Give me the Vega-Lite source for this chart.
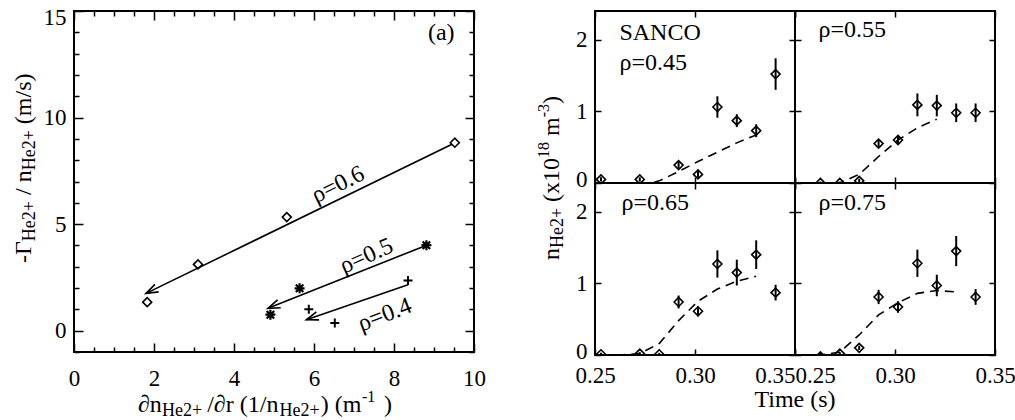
{
"$schema": "https://vega.github.io/schema/vega-lite/v6.json",
"background": "white",
"padding": {"left": 11, "top": 5, "right": 0, "bottom": 0},
"config": {
  "view": {"stroke": "black", "strokeWidth": 2},
  "font": "Liberation Serif, DejaVu Serif, serif",
  "axis": {"domain": false, "grid": false, "labelFont": "Liberation Serif, DejaVu Serif, serif", "labelFontSize": 23, "labelColor": "black", "tickColor": "black", "tickWidth": 1.5, "labelOverlap": false, "labelFlush": false, "labelBound": false},
  "text": {"font": "Liberation Serif, DejaVu Serif, serif", "color": "black", "fontSize": 24},
  "point": {"opacity": 1}
},
"datasets": {
  "flux": [
    {"rho": "0.6", "x": 1.83, "y": 1.34},
    {"rho": "0.6", "x": 3.1, "y": 3.11},
    {"rho": "0.6", "x": 5.32, "y": 5.33},
    {"rho": "0.6", "x": 9.52, "y": 8.82},
    {"rho": "0.5", "x": 4.91, "y": 0.75},
    {"rho": "0.5", "x": 5.64, "y": 1.99},
    {"rho": "0.5", "x": 8.81, "y": 4.01},
    {"rho": "0.4", "x": 5.87, "y": 1.01},
    {"rho": "0.4", "x": 6.52, "y": 0.36},
    {"rho": "0.4", "x": 8.35, "y": 2.36}
  ],
  "fits": [
    {"rho": "0.6", "end": "tail", "x": 9.45, "y": 8.75},
    {"rho": "0.6", "end": "head", "x": 1.8, "y": 1.75},
    {"rho": "0.5", "end": "tail", "x": 8.8, "y": 4.0},
    {"rho": "0.5", "end": "head", "x": 4.85, "y": 1.05},
    {"rho": "0.4", "end": "tail", "x": 8.35, "y": 2.15},
    {"rho": "0.4", "end": "head", "x": 5.81, "y": 0.51}
  ],
  "meas": [
    {"rho": "0.45", "t": 0.2530, "n": 0.05, "lo": 0.02, "hi": 0.08},
    {"rho": "0.45", "t": 0.2724, "n": 0.05, "lo": 0.02, "hi": 0.08},
    {"rho": "0.45", "t": 0.2918, "n": 0.25, "lo": 0.20, "hi": 0.30},
    {"rho": "0.45", "t": 0.3015, "n": 0.12, "lo": 0.07, "hi": 0.17},
    {"rho": "0.45", "t": 0.3112, "n": 1.06, "lo": 0.91, "hi": 1.21},
    {"rho": "0.45", "t": 0.3209, "n": 0.87, "lo": 0.78, "hi": 0.96},
    {"rho": "0.45", "t": 0.3306, "n": 0.73, "lo": 0.64, "hi": 0.82},
    {"rho": "0.45", "t": 0.3403, "n": 1.52, "lo": 1.30, "hi": 1.74},
    {"rho": "0.55", "t": 0.2627, "n": 0.0, "lo": -0.02, "hi": 0.02},
    {"rho": "0.55", "t": 0.2724, "n": 0.0, "lo": -0.02, "hi": 0.02},
    {"rho": "0.55", "t": 0.2821, "n": 0.03, "lo": 0.0, "hi": 0.06},
    {"rho": "0.55", "t": 0.2918, "n": 0.55, "lo": 0.49, "hi": 0.61},
    {"rho": "0.55", "t": 0.3015, "n": 0.60, "lo": 0.54, "hi": 0.66},
    {"rho": "0.55", "t": 0.3112, "n": 1.09, "lo": 0.93, "hi": 1.25},
    {"rho": "0.55", "t": 0.3209, "n": 1.08, "lo": 0.93, "hi": 1.23},
    {"rho": "0.55", "t": 0.3306, "n": 0.98, "lo": 0.85, "hi": 1.11},
    {"rho": "0.55", "t": 0.3403, "n": 0.98, "lo": 0.85, "hi": 1.11},
    {"rho": "0.65", "t": 0.2530, "n": 0.01, "lo": -0.01, "hi": 0.03},
    {"rho": "0.65", "t": 0.2724, "n": 0.02, "lo": 0.0, "hi": 0.04},
    {"rho": "0.65", "t": 0.2821, "n": 0.01, "lo": -0.01, "hi": 0.03},
    {"rho": "0.65", "t": 0.2918, "n": 0.74, "lo": 0.65, "hi": 0.83},
    {"rho": "0.65", "t": 0.3015, "n": 0.61, "lo": 0.54, "hi": 0.68},
    {"rho": "0.65", "t": 0.3112, "n": 1.27, "lo": 1.08, "hi": 1.46},
    {"rho": "0.65", "t": 0.3209, "n": 1.15, "lo": 0.97, "hi": 1.33},
    {"rho": "0.65", "t": 0.3306, "n": 1.40, "lo": 1.20, "hi": 1.60},
    {"rho": "0.65", "t": 0.3403, "n": 0.87, "lo": 0.76, "hi": 0.98},
    {"rho": "0.75", "t": 0.2627, "n": -0.02, "lo": -0.04, "hi": 0.0},
    {"rho": "0.75", "t": 0.2724, "n": 0.02, "lo": 0.0, "hi": 0.04},
    {"rho": "0.75", "t": 0.2821, "n": 0.10, "lo": 0.07, "hi": 0.13},
    {"rho": "0.75", "t": 0.2918, "n": 0.81, "lo": 0.71, "hi": 0.91},
    {"rho": "0.75", "t": 0.3015, "n": 0.67, "lo": 0.59, "hi": 0.75},
    {"rho": "0.75", "t": 0.3112, "n": 1.28, "lo": 1.09, "hi": 1.47},
    {"rho": "0.75", "t": 0.3209, "n": 0.97, "lo": 0.82, "hi": 1.12},
    {"rho": "0.75", "t": 0.3306, "n": 1.45, "lo": 1.24, "hi": 1.66},
    {"rho": "0.75", "t": 0.3403, "n": 0.81, "lo": 0.70, "hi": 0.92}
  ],
  "model": [
    {"rho": "0.45", "t": 0.2724, "n": -0.05},
    {"rho": "0.45", "t": 0.2821, "n": 0.03},
    {"rho": "0.45", "t": 0.2918, "n": 0.16},
    {"rho": "0.45", "t": 0.3015, "n": 0.30},
    {"rho": "0.45", "t": 0.3112, "n": 0.43},
    {"rho": "0.45", "t": 0.3209, "n": 0.56},
    {"rho": "0.45", "t": 0.3306, "n": 0.67},
    {"rho": "0.55", "t": 0.2627, "n": -0.02},
    {"rho": "0.55", "t": 0.2724, "n": 0.0},
    {"rho": "0.55", "t": 0.2821, "n": 0.12},
    {"rho": "0.55", "t": 0.2918, "n": 0.37},
    {"rho": "0.55", "t": 0.3015, "n": 0.60},
    {"rho": "0.55", "t": 0.3112, "n": 0.77},
    {"rho": "0.55", "t": 0.3209, "n": 0.89},
    {"rho": "0.65", "t": 0.2530, "n": 0.0},
    {"rho": "0.65", "t": 0.2627, "n": 0.0},
    {"rho": "0.65", "t": 0.2724, "n": 0.02},
    {"rho": "0.65", "t": 0.2821, "n": 0.16},
    {"rho": "0.65", "t": 0.2918, "n": 0.48},
    {"rho": "0.65", "t": 0.3015, "n": 0.75},
    {"rho": "0.65", "t": 0.3112, "n": 0.92},
    {"rho": "0.65", "t": 0.3209, "n": 1.03},
    {"rho": "0.65", "t": 0.3306, "n": 1.10},
    {"rho": "0.75", "t": 0.2530, "n": 0.0},
    {"rho": "0.75", "t": 0.2627, "n": 0.0},
    {"rho": "0.75", "t": 0.2724, "n": 0.04},
    {"rho": "0.75", "t": 0.2821, "n": 0.28},
    {"rho": "0.75", "t": 0.2918, "n": 0.56},
    {"rho": "0.75", "t": 0.3015, "n": 0.73},
    {"rho": "0.75", "t": 0.3112, "n": 0.86},
    {"rho": "0.75", "t": 0.3209, "n": 0.90},
    {"rho": "0.75", "t": 0.3306, "n": 0.88}
  ]
},
"spacing": 121,
"bounds": "flush",
"hconcat": [
  {
    "width": 400, "height": 341,
    "resolve": {"axis": {"x": "independent", "y": "independent"}},
    "layer": [
      {"data": {"name": "fits"},
       "mark": {"type": "line", "color": "black", "strokeWidth": 1.6},
       "encoding": {
         "x": {"field": "x", "type": "quantitative", "scale": {"domain": [0, 10], "nice": false, "zero": false},
               "axis": {"orient": "bottom", "title": null, "ticks": false, "values": [0, 2, 4, 6, 8, 10], "labelPadding": 26, "labelBaseline": "middle"}},
         "y": {"field": "y", "type": "quantitative", "scale": {"domain": [-1, 15], "nice": false, "zero": false},
               "axis": {"orient": "left", "title": null, "ticks": false, "values": [0, 5, 10, 15], "labelPadding": 8,
                        "labelOffset": {"condition": {"test": "datum.value == 15", "value": 6}, "value": 0}}},
         "detail": {"field": "rho"}}},
      {"data": {"name": "fits"}, "transform": [{"filter": "datum.rho == '0.6' && datum.end == 'head'"}],
       "mark": {"type": "point", "shape": "M-1,-0.35L0,0L-1,0.35", "size": 576, "angle": 154, "filled": false, "stroke": "black", "strokeWidth": 1.6, "opacity": 1},
       "encoding": {
         "x": {"field": "x", "type": "quantitative", "axis": {"orient": "bottom", "title": null, "labels": false, "values": [0, 2, 4, 6, 8, 10], "tickSize": -9}},
         "y": {"field": "y", "type": "quantitative", "axis": {"orient": "left", "title": null, "labels": false, "values": [0, 5, 10, 15], "tickSize": -9}}}},
      {"data": {"name": "fits"}, "transform": [{"filter": "datum.rho == '0.5' && datum.end == 'head'"}],
       "mark": {"type": "point", "shape": "M-1,-0.35L0,0L-1,0.35", "size": 576, "angle": 158, "filled": false, "stroke": "black", "strokeWidth": 1.6, "opacity": 1},
       "encoding": {
         "x": {"field": "x", "type": "quantitative", "axis": {"orient": "bottom", "title": null, "labels": false, "values": [0.5, 1, 1.5, 2.5, 3, 3.5, 4.5, 5, 5.5, 6.5, 7, 7.5, 8.5, 9, 9.5], "tickSize": -5}},
         "y": {"field": "y", "type": "quantitative", "axis": {"orient": "left", "title": null, "labels": false, "values": [-1, 1, 2, 3, 4, 6, 7, 8, 9, 11, 12, 13, 14], "tickSize": -5}}}},
      {"data": {"name": "fits"}, "transform": [{"filter": "datum.rho == '0.4' && datum.end == 'head'"}],
       "mark": {"type": "point", "shape": "M-1,-0.35L0,0L-1,0.35", "size": 576, "angle": 161, "filled": false, "stroke": "black", "strokeWidth": 1.6, "opacity": 1},
       "encoding": {
         "x": {"field": "x", "type": "quantitative", "axis": {"orient": "top", "title": null, "labels": false, "values": [0, 2, 4, 6, 8, 10], "tickSize": -9}},
         "y": {"field": "y", "type": "quantitative", "axis": {"orient": "right", "title": null, "labels": false, "values": [0, 5, 10, 15], "tickSize": -9}}}},
      {"data": {"name": "flux"}, "transform": [{"filter": "datum.rho == '0.6'"}],
       "mark": {"type": "point", "shape": "diamond", "size": 81, "filled": false, "stroke": "black", "strokeWidth": 1.6, "opacity": 1},
       "encoding": {
         "x": {"field": "x", "type": "quantitative", "axis": {"orient": "top", "title": null, "labels": false, "values": [0.5, 1, 1.5, 2.5, 3, 3.5, 4.5, 5, 5.5, 6.5, 7, 7.5, 8.5, 9, 9.5], "tickSize": -5}},
         "y": {"field": "y", "type": "quantitative", "axis": {"orient": "right", "title": null, "labels": false, "values": [-1, 1, 2, 3, 4, 6, 7, 8, 9, 11, 12, 13, 14], "tickSize": -5}}}},
      {"data": {"name": "flux"}, "transform": [{"filter": "datum.rho == '0.5'"}],
       "mark": {"type": "point", "shape": "M-1,0L1,0M0,-1L0,1M-0.75,-0.75L0.75,0.75M-0.75,0.75L0.75,-0.75", "size": 100, "filled": false, "stroke": "black", "strokeWidth": 2.2, "opacity": 1},
       "encoding": {
         "x": {"field": "x", "type": "quantitative", "axis": null},
         "y": {"field": "y", "type": "quantitative", "axis": null}}},
      {"data": {"name": "flux"}, "transform": [{"filter": "datum.rho == '0.4'"}],
       "mark": {"type": "point", "shape": "M-1,0L1,0M0,-1L0,1", "size": 81, "filled": false, "stroke": "black", "strokeWidth": 2, "opacity": 1},
       "encoding": {
         "x": {"field": "x", "type": "quantitative", "axis": null},
         "y": {"field": "y", "type": "quantitative", "axis": null}}},
      {"data": {"values": [{}]}, "mark": {"type": "text", "text": "(a)", "align": "center", "baseline": "middle"},
       "encoding": {"x": {"datum": 9.18, "type": "quantitative", "axis": null}, "y": {"datum": 13.96, "type": "quantitative", "axis": null}}},
      {"data": {"values": [{}]}, "mark": {"type": "text", "text": "ρ=0.6", "align": "center", "baseline": "middle", "angle": -26},
       "encoding": {"x": {"datum": 6.6, "type": "quantitative", "axis": null}, "y": {"datum": 6.85, "type": "quantitative", "axis": null}}},
      {"data": {"values": [{}]}, "mark": {"type": "text", "text": "ρ=0.5", "align": "center", "baseline": "middle", "angle": -24},
       "encoding": {"x": {"datum": 7.31, "type": "quantitative", "axis": null}, "y": {"datum": 3.5, "type": "quantitative", "axis": null}}},
      {"data": {"values": [{}]}, "mark": {"type": "text", "text": "ρ=0.4", "align": "center", "baseline": "middle", "angle": -21},
       "encoding": {"x": {"datum": 7.77, "type": "quantitative", "axis": null}, "y": {"datum": 0.74, "type": "quantitative", "axis": null}}},
      {"data": {"values": [{}]}, "mark": {"type": "text", "text": "-Γ", "align": "left", "baseline": "middle", "angle": 270},
       "encoding": {"x": {"datum": -1.24, "type": "quantitative", "axis": null}, "y": {"datum": 3.18, "type": "quantitative", "axis": null}}},
      {"data": {"values": [{}]}, "mark": {"type": "text", "text": "He2+", "align": "left", "baseline": "middle", "angle": 270, "fontSize": 18, "dy": 6},
       "encoding": {"x": {"datum": -1.24, "type": "quantitative", "axis": null}, "y": {"datum": 4.20, "type": "quantitative", "axis": null}}},
      {"data": {"values": [{}]}, "mark": {"type": "text", "text": "/ n", "align": "left", "baseline": "middle", "angle": 270},
       "encoding": {"x": {"datum": -1.24, "type": "quantitative", "axis": null}, "y": {"datum": 6.37, "type": "quantitative", "axis": null}}},
      {"data": {"values": [{}]}, "mark": {"type": "text", "text": "He2+", "align": "left", "baseline": "middle", "angle": 270, "fontSize": 18, "dy": 6},
       "encoding": {"x": {"datum": -1.24, "type": "quantitative", "axis": null}, "y": {"datum": 7.53, "type": "quantitative", "axis": null}}},
      {"data": {"values": [{}]}, "mark": {"type": "text", "text": "(m/s)", "align": "left", "baseline": "middle", "angle": 270},
       "encoding": {"x": {"datum": -1.24, "type": "quantitative", "axis": null}, "y": {"datum": 9.69, "type": "quantitative", "axis": null}}},
      {"data": {"values": [{}]}, "mark": {"type": "text", "text": "∂n", "align": "left", "baseline": "middle"},
       "encoding": {"x": {"datum": 1.6, "type": "quantitative", "axis": null}, "y": {"datum": -3.5, "type": "quantitative", "axis": null}}},
      {"data": {"values": [{}]}, "mark": {"type": "text", "text": "He2+", "align": "left", "baseline": "middle", "fontSize": 18, "dy": 6},
       "encoding": {"x": {"datum": 2.2, "type": "quantitative", "axis": null}, "y": {"datum": -3.5, "type": "quantitative", "axis": null}}},
      {"data": {"values": [{}]}, "mark": {"type": "text", "text": "/∂r (1/n", "align": "left", "baseline": "middle"},
       "encoding": {"x": {"datum": 3.33, "type": "quantitative", "axis": null}, "y": {"datum": -3.5, "type": "quantitative", "axis": null}}},
      {"data": {"values": [{}]}, "mark": {"type": "text", "text": "He2+", "align": "left", "baseline": "middle", "fontSize": 18, "dy": 6},
       "encoding": {"x": {"datum": 5.14, "type": "quantitative", "axis": null}, "y": {"datum": -3.5, "type": "quantitative", "axis": null}}},
      {"data": {"values": [{}]}, "mark": {"type": "text", "text": ") (m", "align": "left", "baseline": "middle"},
       "encoding": {"x": {"datum": 6.17, "type": "quantitative", "axis": null}, "y": {"datum": -3.5, "type": "quantitative", "axis": null}}},
      {"data": {"values": [{}]}, "mark": {"type": "text", "text": "-1", "align": "left", "baseline": "middle", "fontSize": 16, "dy": -8},
       "encoding": {"x": {"datum": 7.2, "type": "quantitative", "axis": null}, "y": {"datum": -3.5, "type": "quantitative", "axis": null}}},
      {"data": {"values": [{}]}, "mark": {"type": "text", "text": ")", "align": "left", "baseline": "middle"},
       "encoding": {"x": {"datum": 7.75, "type": "quantitative", "axis": null}, "y": {"datum": -3.5, "type": "quantitative", "axis": null}}}
    ]
  },
  {
    "columns": 2,
    "spacing": 0,
    "bounds": "flush",
    "concat": [
      {
        "width": 200, "height": 172,
        "resolve": {"axis": {"x": "independent", "y": "independent"}},
        "layer": [
          {"data": {"name": "meas"}, "transform": [{"filter": "datum.rho == '0.45'"}],
           "mark": {"type": "rule", "color": "black", "strokeWidth": 2, "clip": true},
           "encoding": {
             "x": {"field": "t", "type": "quantitative", "scale": {"domain": [0.25, 0.35], "nice": false, "zero": false},
                   "axis": {"orient": "bottom", "title": null, "labels": false, "values": [0.25, 0.3, 0.35], "tickSize": -6}},
             "y": {"field": "lo", "type": "quantitative", "scale": {"domain": [0, 2.4], "nice": false, "zero": false},
                   "axis": {"orient": "left", "title": null, "labels": false, "values": [0, 1, 2], "tickSize": -6}},
             "y2": {"field": "hi"}}},
          {"data": {"name": "meas"}, "transform": [{"filter": "datum.rho == '0.45'"}],
           "mark": {"type": "point", "shape": "diamond", "size": 81, "filled": false, "stroke": "black", "strokeWidth": 1.6, "opacity": 1, "clip": true},
           "encoding": {
             "x": {"field": "t", "type": "quantitative", "axis": {"orient": "top", "title": null, "labels": false, "values": [0.25, 0.3, 0.35], "tickSize": -6}},
             "y": {"field": "n", "type": "quantitative", "axis": {"orient": "right", "title": null, "labels": false, "values": [0, 1, 2], "tickSize": -6}}}},
          {"data": {"name": "model"}, "transform": [{"filter": "datum.rho == '0.45'"}],
           "mark": {"type": "line", "color": "black", "strokeWidth": 1.6, "strokeDash": [9, 6], "clip": true},
           "encoding": {
             "x": {"field": "t", "type": "quantitative", "axis": null},
             "y": {"field": "n", "type": "quantitative", "axis": {"orient": "left", "title": null, "ticks": false, "values": [0, 1, 2], "format": "d", "labelPadding": 8,
                   "labelOffset": {"condition": {"test": "datum.value == 0", "value": -4}, "value": 0}}}}},
          {"data": {"values": [{}]}, "mark": {"type": "text", "text": "SANCO", "align": "left", "baseline": "middle"},
           "encoding": {"x": {"datum": 0.2622, "type": "quantitative", "axis": null}, "y": {"datum": 2.09, "type": "quantitative", "axis": null}}},
          {"data": {"values": [{}]}, "mark": {"type": "text", "text": "ρ=0.45", "align": "left", "baseline": "middle"},
           "encoding": {"x": {"datum": 0.2622, "type": "quantitative", "axis": null}, "y": {"datum": 1.67, "type": "quantitative", "axis": null}}},
          {"data": {"values": [{}]}, "mark": {"type": "text", "text": "n", "align": "left", "baseline": "middle", "angle": 270},
           "encoding": {"x": {"datum": 0.2284, "type": "quantitative", "axis": null}, "y": {"datum": -1.074, "type": "quantitative", "axis": null}}},
          {"data": {"values": [{}]}, "mark": {"type": "text", "text": "He2+", "align": "left", "baseline": "middle", "angle": 270, "fontSize": 18, "dy": 6},
           "encoding": {"x": {"datum": 0.2284, "type": "quantitative", "axis": null}, "y": {"datum": -0.907, "type": "quantitative", "axis": null}}},
          {"data": {"values": [{}]}, "mark": {"type": "text", "text": "(x10", "align": "left", "baseline": "middle", "angle": 270},
           "encoding": {"x": {"datum": 0.2284, "type": "quantitative", "axis": null}, "y": {"datum": -0.264, "type": "quantitative", "axis": null}}},
          {"data": {"values": [{}]}, "mark": {"type": "text", "text": "18", "align": "left", "baseline": "middle", "angle": 270, "fontSize": 16, "dy": -8},
           "encoding": {"x": {"datum": 0.2284, "type": "quantitative", "axis": null}, "y": {"datum": 0.350, "type": "quantitative", "axis": null}}},
          {"data": {"values": [{}]}, "mark": {"type": "text", "text": "m", "align": "left", "baseline": "middle", "angle": 270},
           "encoding": {"x": {"datum": 0.2284, "type": "quantitative", "axis": null}, "y": {"datum": 0.657, "type": "quantitative", "axis": null}}},
          {"data": {"values": [{}]}, "mark": {"type": "text", "text": "-3", "align": "left", "baseline": "middle", "angle": 270, "fontSize": 16, "dy": -8},
           "encoding": {"x": {"datum": 0.2284, "type": "quantitative", "axis": null}, "y": {"datum": 0.918, "type": "quantitative", "axis": null}}},
          {"data": {"values": [{}]}, "mark": {"type": "text", "text": ")", "align": "left", "baseline": "middle", "angle": 270},
           "encoding": {"x": {"datum": 0.2284, "type": "quantitative", "axis": null}, "y": {"datum": 1.104, "type": "quantitative", "axis": null}}}
        ]
      },
      {
        "width": 200, "height": 172,
        "resolve": {"axis": {"x": "independent", "y": "independent"}},
        "layer": [
          {"data": {"name": "meas"}, "transform": [{"filter": "datum.rho == '0.55'"}],
           "mark": {"type": "rule", "color": "black", "strokeWidth": 2, "clip": true},
           "encoding": {
             "x": {"field": "t", "type": "quantitative", "scale": {"domain": [0.25, 0.35], "nice": false, "zero": false},
                   "axis": {"orient": "bottom", "title": null, "labels": false, "values": [0.25, 0.3, 0.35], "tickSize": -6}},
             "y": {"field": "lo", "type": "quantitative", "scale": {"domain": [0, 2.4], "nice": false, "zero": false},
                   "axis": {"orient": "left", "title": null, "labels": false, "values": [0, 1, 2], "tickSize": -6}},
             "y2": {"field": "hi"}}},
          {"data": {"name": "meas"}, "transform": [{"filter": "datum.rho == '0.55'"}],
           "mark": {"type": "point", "shape": "diamond", "size": 81, "filled": false, "stroke": "black", "strokeWidth": 1.6, "opacity": 1, "clip": true},
           "encoding": {
             "x": {"field": "t", "type": "quantitative", "axis": {"orient": "top", "title": null, "labels": false, "values": [0.25, 0.3, 0.35], "tickSize": -6}},
             "y": {"field": "n", "type": "quantitative", "axis": {"orient": "right", "title": null, "labels": false, "values": [0, 1, 2], "tickSize": -6}}}},
          {"data": {"name": "model"}, "transform": [{"filter": "datum.rho == '0.55'"}],
           "mark": {"type": "line", "color": "black", "strokeWidth": 1.6, "strokeDash": [9, 6], "clip": true},
           "encoding": {
             "x": {"field": "t", "type": "quantitative", "axis": null},
             "y": {"field": "n", "type": "quantitative", "axis": null}}},
          {"data": {"values": [{}]}, "mark": {"type": "text", "text": "ρ=0.55", "align": "left", "baseline": "middle"},
           "encoding": {"x": {"datum": 0.2617, "type": "quantitative", "axis": null}, "y": {"datum": 2.13, "type": "quantitative", "axis": null}}}
        ]
      },
      {
        "width": 200, "height": 172,
        "resolve": {"axis": {"x": "independent", "y": "independent"}},
        "layer": [
          {"data": {"name": "meas"}, "transform": [{"filter": "datum.rho == '0.65'"}],
           "mark": {"type": "rule", "color": "black", "strokeWidth": 2, "clip": true},
           "encoding": {
             "x": {"field": "t", "type": "quantitative", "scale": {"domain": [0.25, 0.35], "nice": false, "zero": false},
                   "axis": {"orient": "bottom", "title": null, "labels": false, "values": [0.25, 0.3, 0.35], "tickSize": -6}},
             "y": {"field": "lo", "type": "quantitative", "scale": {"domain": [0, 2.4], "nice": false, "zero": false},
                   "axis": {"orient": "left", "title": null, "labels": false, "values": [0, 1, 2], "tickSize": -6}},
             "y2": {"field": "hi"}}},
          {"data": {"name": "meas"}, "transform": [{"filter": "datum.rho == '0.65'"}],
           "mark": {"type": "point", "shape": "diamond", "size": 81, "filled": false, "stroke": "black", "strokeWidth": 1.6, "opacity": 1, "clip": true},
           "encoding": {
             "x": {"field": "t", "type": "quantitative", "axis": {"orient": "top", "title": null, "labels": false, "values": [0.25, 0.3, 0.35], "tickSize": -6}},
             "y": {"field": "n", "type": "quantitative", "axis": {"orient": "right", "title": null, "labels": false, "values": [0, 1, 2], "tickSize": -6}}}},
          {"data": {"name": "model"}, "transform": [{"filter": "datum.rho == '0.65'"}],
           "mark": {"type": "line", "color": "black", "strokeWidth": 1.6, "strokeDash": [9, 6], "clip": true},
           "encoding": {
             "x": {"field": "t", "type": "quantitative", "axis": {"orient": "bottom", "title": null, "ticks": false, "values": [0.25, 0.3, 0.35], "format": ".2f", "labelPadding": 20, "labelBaseline": "middle",
                   "labelAlign": {"condition": {"test": "datum.value > 0.34", "value": "right"}, "value": "center"}}},
             "y": {"field": "n", "type": "quantitative", "axis": {"orient": "left", "title": null, "ticks": false, "values": [0, 1, 2], "format": "d", "labelPadding": 8,
                   "labelOffset": {"condition": {"test": "datum.value == 0", "value": -4}, "value": 0}}}}},
          {"data": {"values": [{}]}, "mark": {"type": "text", "text": "ρ=0.65", "align": "left", "baseline": "middle"},
           "encoding": {"x": {"datum": 0.2632, "type": "quantitative", "axis": null}, "y": {"datum": 2.12, "type": "quantitative", "axis": null}}},
          {"data": {"values": [{}]}, "mark": {"type": "text", "text": "Time (s)", "align": "center", "baseline": "middle"},
           "encoding": {"x": {"datum": 0.35, "type": "quantitative", "axis": null}, "y": {"datum": -0.628, "type": "quantitative", "axis": null}}}
        ]
      },
      {
        "width": 200, "height": 172,
        "resolve": {"axis": {"x": "independent", "y": "independent"}},
        "layer": [
          {"data": {"name": "meas"}, "transform": [{"filter": "datum.rho == '0.75'"}],
           "mark": {"type": "rule", "color": "black", "strokeWidth": 2, "clip": true},
           "encoding": {
             "x": {"field": "t", "type": "quantitative", "scale": {"domain": [0.25, 0.35], "nice": false, "zero": false},
                   "axis": {"orient": "bottom", "title": null, "labels": false, "values": [0.25, 0.3, 0.35], "tickSize": -6}},
             "y": {"field": "lo", "type": "quantitative", "scale": {"domain": [0, 2.4], "nice": false, "zero": false},
                   "axis": {"orient": "left", "title": null, "labels": false, "values": [0, 1, 2], "tickSize": -6}},
             "y2": {"field": "hi"}}},
          {"data": {"name": "meas"}, "transform": [{"filter": "datum.rho == '0.75'"}],
           "mark": {"type": "point", "shape": "diamond", "size": 81, "filled": false, "stroke": "black", "strokeWidth": 1.6, "opacity": 1, "clip": true},
           "encoding": {
             "x": {"field": "t", "type": "quantitative", "axis": {"orient": "top", "title": null, "labels": false, "values": [0.25, 0.3, 0.35], "tickSize": -6}},
             "y": {"field": "n", "type": "quantitative", "axis": {"orient": "right", "title": null, "labels": false, "values": [0, 1, 2], "tickSize": -6}}}},
          {"data": {"name": "model"}, "transform": [{"filter": "datum.rho == '0.75'"}],
           "mark": {"type": "line", "color": "black", "strokeWidth": 1.6, "strokeDash": [9, 6], "clip": true},
           "encoding": {
             "x": {"field": "t", "type": "quantitative", "axis": {"orient": "bottom", "title": null, "ticks": false, "values": [0.25, 0.3, 0.35], "format": ".2f", "labelPadding": 20, "labelBaseline": "middle",
                   "labelAlign": {"condition": {"test": "datum.value < 0.26", "value": "left"}, "value": "center"}}},
             "y": {"field": "n", "type": "quantitative", "axis": null}}},
          {"data": {"values": [{}]}, "mark": {"type": "text", "text": "ρ=0.75", "align": "left", "baseline": "middle"},
           "encoding": {"x": {"datum": 0.2617, "type": "quantitative", "axis": null}, "y": {"datum": 2.12, "type": "quantitative", "axis": null}}}
        ]
      }
    ]
  }
]
}
